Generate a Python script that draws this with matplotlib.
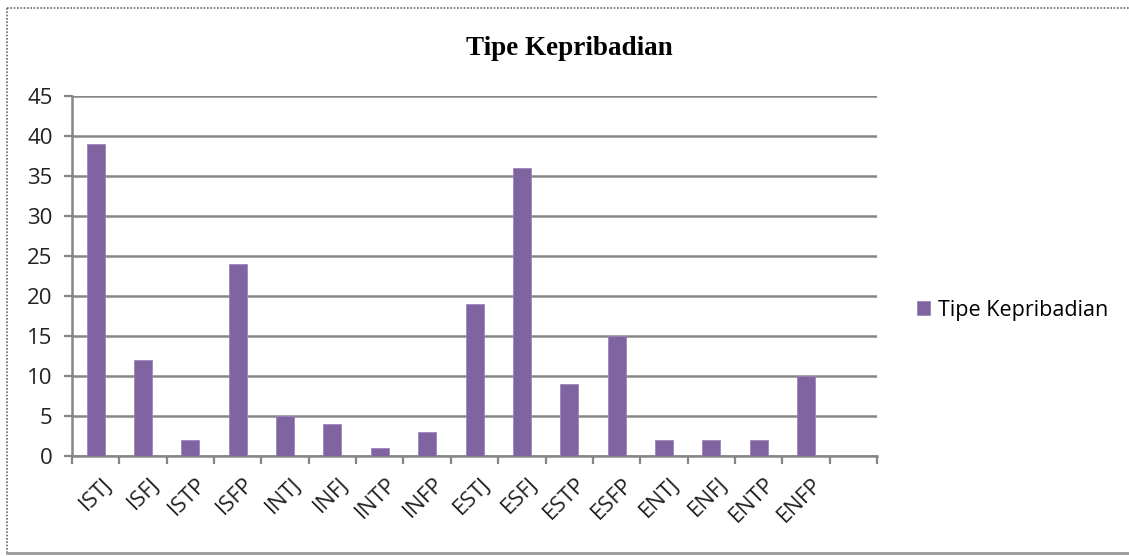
import matplotlib
matplotlib.use('Agg')
import matplotlib.pyplot as plt
from matplotlib.lines import Line2D
import numpy as np

types = ['ISTJ', 'ISFJ', 'ISTP', 'ISFP', 'INTJ', 'INFJ', 'INTP', 'INFP',
         'ESTJ', 'ESFJ', 'ESTP', 'ESFP', 'ENTJ', 'ENFJ', 'ENTP', 'ENFP']
counts = [39, 12, 2, 24, 5, 4, 1, 3, 19, 36, 9, 15, 2, 2, 2, 10]
yticks = [0, 5, 10, 15, 20, 25, 30, 35, 40, 45]

purple = '#8064A2'
grey = '#868686'
font = 'Open Sans'

fig = plt.figure(figsize=(11.29, 5.56), dpi=100)
ax = fig.add_axes([0.0638, 0.1799, 0.7130, 0.6474])

# one empty slot after the last category, like the original sheet
n_slots = len(types) + 1
x = np.arange(len(types))
ax.bar(x, counts, width=0.38, color=purple, edgecolor='#9b86b8', linewidth=0.6,
       label='Tipe Kepribadian', zorder=3)

ax.set_xlim(-0.5, n_slots - 0.5)
ax.set_ylim(0, 45)
ax.set_yticks(yticks)
ax.set_xticks(np.arange(n_slots + 1) - 0.5)
ax.set_xticklabels([])
for i, t in enumerate(types):
    ax.text(i + 0.12, -2.2, t, rotation=45, ha='right', va='top',
            rotation_mode='anchor', fontsize=16, family=font, color='#222222')

ax.grid(axis='y', color=grey, linewidth=1.8, zorder=0)
for s in ['top', 'right']:
    ax.spines[s].set_visible(False)
ax.spines['left'].set_color(grey)
ax.spines['bottom'].set_color(grey)
ax.spines['left'].set_linewidth(1.8)
ax.spines['bottom'].set_linewidth(1.8)
ax.tick_params(axis='both', direction='out', length=6, width=1.6, color=grey)
ax.tick_params(axis='y', labelsize=16, pad=8, labelcolor='#222222')
for lab in ax.get_yticklabels():
    lab.set_family(font)

fig.text(0.504, 0.912, 'Tipe Kepribadian', ha='center', va='center',
         fontsize=19.5, fontweight='bold', family='Liberation Serif')

ax.legend(loc='center left', bbox_to_anchor=(1.025, 0.405), frameon=False,
          prop={'family': font, 'size': 15.5}, handlelength=0.65, handleheight=0.65,
          handletextpad=0.35)

# outer chart frame
fig.add_artist(Line2D([0.0062, 1.0], [0.9856, 0.9856], color='#666666',
                      linewidth=1.2, linestyle=(0, (1, 1))))
fig.add_artist(Line2D([0.0062, 0.0062], [0.0054, 0.9856], color='#666666',
                      linewidth=1.2, linestyle=(0, (1, 1))))
fig.add_artist(Line2D([0.0062, 1.0], [0.0054, 0.0054], color='#999999',
                      linewidth=2))

plt.savefig('out.png', dpi=100)
